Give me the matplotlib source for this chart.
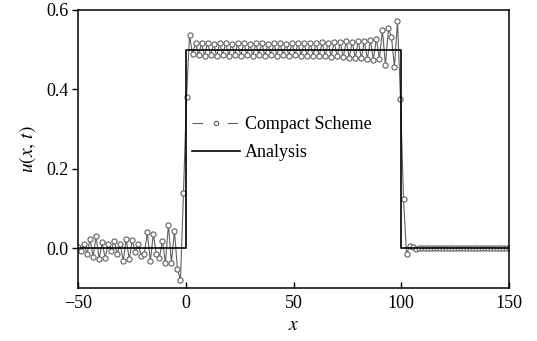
import numpy as np
import matplotlib
matplotlib.use("Agg")
import matplotlib.pyplot as plt
from matplotlib.lines import Line2D
from matplotlib.legend_handler import HandlerTuple

plt.rcParams['font.family'] = ['Liberation Serif', 'DejaVu Serif']
plt.rcParams['mathtext.fontset'] = 'stix'

# ---- data ----
x_start, x_end, n_points = -50, 150, 144
u_left = [0.002, -0.007, 0.012, -0.015, 0.023, -0.022, 0.030, -0.027, 0.015, -0.024,
          0.010, -0.006, 0.019, -0.014, 0.012, -0.032, 0.023, -0.028, 0.020, -0.010,
          0.012, -0.020, -0.015, 0.040, -0.032, 0.036, -0.015, -0.025, 0.019, -0.037,
          0.059, -0.037, 0.044, -0.053, -0.079, 0.140]
u_plateau = [0.380, 0.537, 0.488, 0.518, 0.486, 0.516, 0.485, 0.517, 0.487, 0.515,
             0.484, 0.516, 0.486, 0.517, 0.485, 0.515, 0.487, 0.516, 0.484, 0.517,
             0.486, 0.515, 0.485, 0.516, 0.487, 0.517, 0.484, 0.515, 0.486, 0.516,
             0.485, 0.517, 0.486, 0.515, 0.484, 0.517, 0.486, 0.516, 0.485, 0.518,
             0.484, 0.517, 0.485, 0.518, 0.483, 0.519, 0.484, 0.518, 0.482, 0.520,
             0.483, 0.519, 0.481, 0.521, 0.480, 0.520, 0.479, 0.522, 0.478, 0.521,
             0.477, 0.524, 0.475, 0.528, 0.477, 0.549, 0.462, 0.554, 0.532, 0.456,
             0.572, 0.377]
u_right = [0.125, -0.015, 0.006, 0.002, -0.001, 0.001] + [0.0] * 30

x_exact = [-50, 0, 0, 100, 100, 150]
u_exact = [0.0, 0.0, 0.5, 0.5, 0.0, 0.0]

x_ticks = [-50, 0, 50, 100, 150]
y_ticks = [0.0, 0.2, 0.4, 0.6]

x_num = np.linspace(x_start, x_end, n_points)
u_num = np.array(u_left + u_plateau + u_right)

# ---- figure ----
W, H = 537, 341
fig = plt.figure(figsize=(W / 100, H / 100), dpi=100)
L, R, T, B = 78, 509, 10, 288
ax = fig.add_axes([L / W, 1 - B / H, (R - L) / W, (B - T) / H])

gray = '#606060'
ax.plot(x_num, u_num, color=gray, lw=0.8, marker='o', ms=3.7,
        mfc='white', mec=gray, mew=0.8, zorder=2)
ax.plot(x_exact, u_exact, color='black', lw=1.2, zorder=3)

ax.set_xlim(-50, 150)
ax.set_ylim(-0.1, 0.6)
ax.set_xticks(x_ticks)
ax.set_yticks(y_ticks)
ax.set_yticklabels([f'{v:.1f}' for v in y_ticks])
ax.tick_params(axis='x', direction='in', length=4, width=1.0, labelsize=13, pad=5)
ax.tick_params(axis='y', direction='out', length=4, width=1.0, labelsize=13, pad=3)
for s in ax.spines.values():
    s.set_linewidth(1.1)

ax.set_xlabel(r'$x$', fontsize=14, labelpad=4)
ax.set_ylabel(r'$u(x,\, t)$', fontsize=14, labelpad=6)

h_num = (Line2D([], [], color=gray, lw=0.8, ls=(0, (9.5, 22))),
         Line2D([], [], ls='none', marker='o', ms=3.2, mfc='white', mec=gray, mew=0.8))
h_ex = Line2D([], [], color='black', lw=1.2)
ax.legend([h_num, h_ex], ['Compact Scheme', 'Analysis'],
          handler_map={tuple: HandlerTuple(ndivide=1, pad=0)},
          loc='upper left', bbox_to_anchor=(0.226, 0.677), frameon=False,
          fontsize=13, handlelength=2.66, handletextpad=0.3, labelspacing=0.6,
          borderpad=0.4)

fig.savefig('out.png', dpi=100)
